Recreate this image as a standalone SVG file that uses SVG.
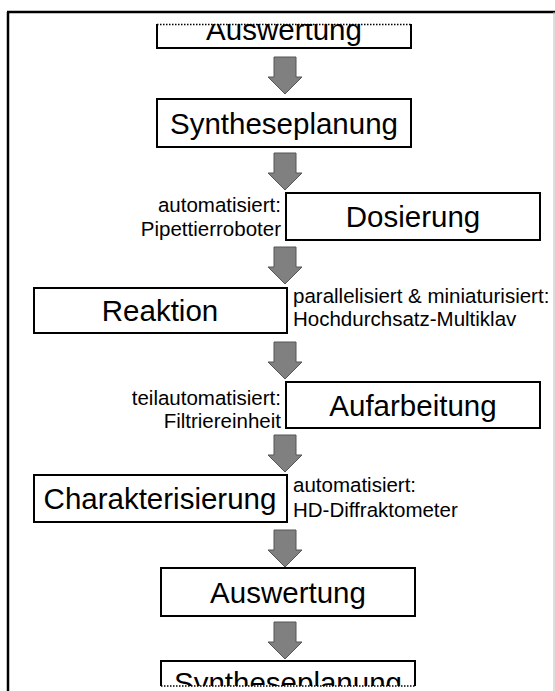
<svg xmlns="http://www.w3.org/2000/svg" width="555" height="691" viewBox="0 0 555 691">
<style>
.box{fill:#fff;stroke:#000;stroke-width:2}
.big{font-family:"Liberation Sans",Arial,sans-serif;font-size:29.5px;fill:#000;text-anchor:middle}
.small{font-family:"Liberation Sans",Arial,sans-serif;font-size:20.5px;fill:#000}
.arrow{fill:#808080;stroke:#555;stroke-width:1}
.dot{stroke:#000;stroke-width:1.5;stroke-dasharray:1.5 1.5;fill:none}
</style>
<defs>
<path id="arr" d="M-11,0 H11 V20 H17 L0,37 L-17,20 H-11 Z"/>
<clipPath id="cTop"><rect x="150" y="24" width="265" height="30"/></clipPath>
<clipPath id="cBot"><rect x="150" y="655" width="270" height="31"/></clipPath>
</defs>
<rect width="555" height="691" fill="#fff"/>
<g id="frame">
<line x1="8" y1="12" x2="8" y2="691" stroke="#000" stroke-width="2.5"/>
<line x1="7" y1="12" x2="555" y2="12" stroke="#000" stroke-width="2.5"/>
<line x1="554" y1="12" x2="554" y2="691" stroke="#bbb" stroke-width="1"/>
</g>
<g id="connectors">
<use href="#arr" x="285" y="57" class="arrow"/>
<use href="#arr" x="285" y="153" class="arrow"/>
<use href="#arr" x="285" y="247" class="arrow"/>
<use href="#arr" x="285" y="342" class="arrow"/>
<use href="#arr" x="285" y="435" class="arrow"/>
<use href="#arr" x="285" y="530" class="arrow"/>
<use href="#arr" x="285" y="622" class="arrow"/>
</g>
<g id="n-top">
<g clip-path="url(#cTop)">
<rect class="box" x="157" y="18" width="254" height="30"/>
<text class="big" x="284" y="40">Auswertung</text>
</g>
<line class="dot" x1="157" y1="24.5" x2="411" y2="24.5"/>
</g>
<g id="n-synth">
<rect class="box" x="157" y="99" width="254" height="48"/>
<text class="big" x="284" y="134">Syntheseplanung</text>
</g>
<g id="n-dos">
<rect class="box" x="286" y="193" width="254" height="47"/>
<text class="big" x="413" y="227">Dosierung</text>
<text class="small" x="281" y="212" text-anchor="end">automatisiert:</text>
<text class="small" x="281" y="236" text-anchor="end">Pipettierroboter</text>
</g>
<g id="n-reak">
<rect class="box" x="34" y="288" width="253" height="45"/>
<text class="big" x="160" y="321">Reaktion</text>
<text class="small" x="293" y="303">parallelisiert &amp; miniaturisiert:</text>
<text class="small" x="293" y="326">Hochdurchsatz-Multiklav</text>
</g>
<g id="n-auf">
<rect class="box" x="286" y="382" width="254" height="46"/>
<text class="big" x="413" y="416">Aufarbeitung</text>
<text class="small" x="281" y="405" text-anchor="end">teilautomatisiert:</text>
<text class="small" x="281" y="428" text-anchor="end">Filtriereinheit</text>
</g>
<g id="n-char">
<rect class="box" x="34" y="475" width="253" height="47"/>
<text class="big" x="160" y="509">Charakterisierung</text>
<text class="small" x="293" y="492">automatisiert:</text>
<text class="small" x="293" y="517">HD-Diffraktometer</text>
</g>
<g id="n-ausw">
<rect class="box" x="161" y="568" width="254" height="48"/>
<text class="big" x="288" y="603">Auswertung</text>
</g>
<g id="n-bot">
<g clip-path="url(#cBot)">
<rect class="box" x="161" y="661" width="254" height="40"/>
<text class="big" x="288" y="693">Syntheseplanung</text>
</g>
<line class="dot" x1="161" y1="686" x2="415" y2="686"/>
</g>
</svg>
